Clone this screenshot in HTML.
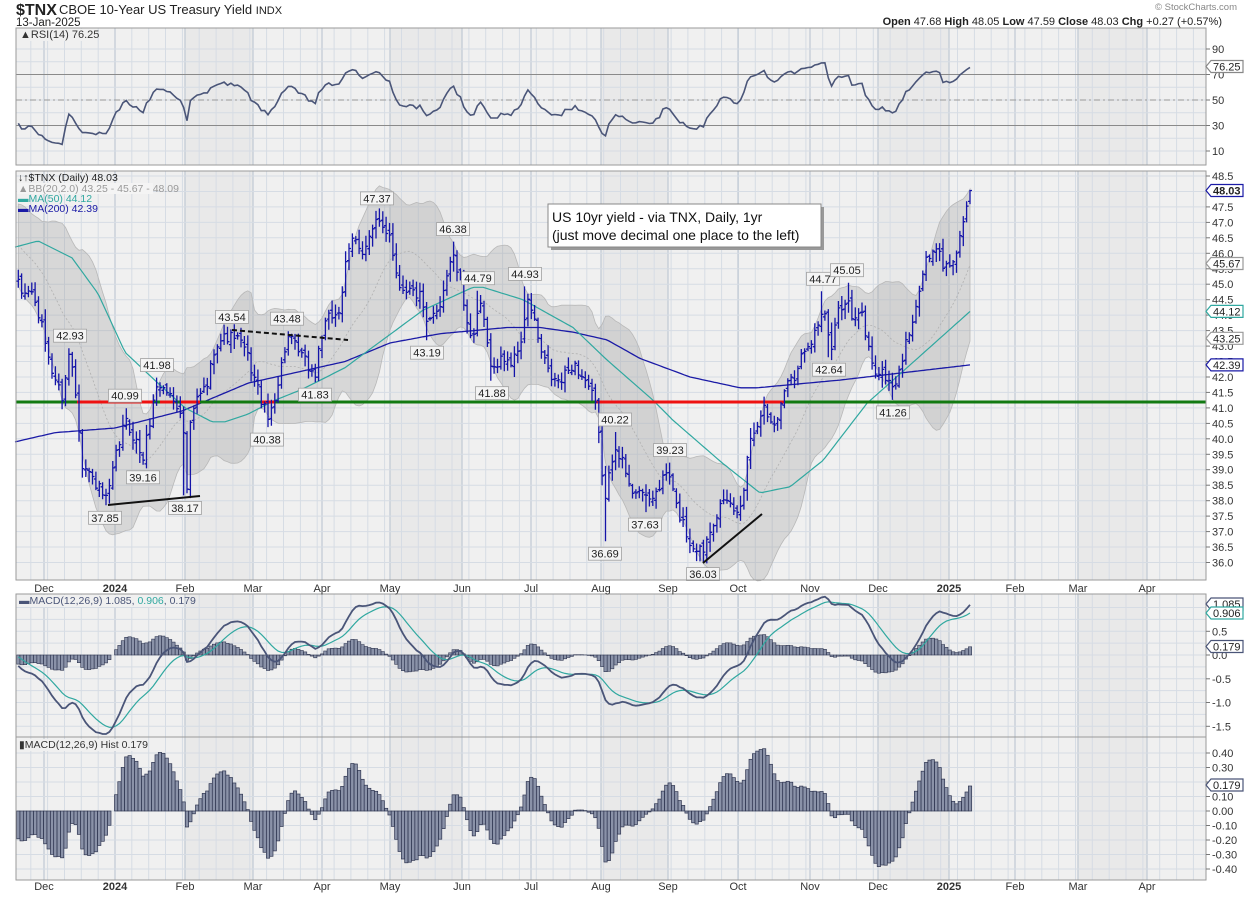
<!DOCTYPE html>
<html><head><meta charset="utf-8"><style>
html,body{margin:0;padding:0;background:#fff;}
svg{display:block;font-family:"Liberation Sans",sans-serif;}
</style></head><body>
<svg id="c" width="1250" height="897" xmlns="http://www.w3.org/2000/svg"></svg>
<script>
const S=document.getElementById('c');let h='';
const L=16,R=1206;
function yP(p){return 176+(48.5-p)*30.92}
function yR(v){return 100+(50-v)*1.275}
function yM(v){return 655-v*47.5}
function yH(v){return 811-v*145}
let s=1234567;function rnd(){s=(s*1103515245+12345)%2147483648;return s/2147483648;}
function interp(K,x){if(x<=K[0][0])return K[0][1];for(let i=1;i<K.length;i++){if(x<=K[i][0]){const a=K[i-1],b=K[i];return a[1]+(b[1]-a[1])*(x-a[0])/(b[0]-a[0]);}}return K[K.length-1][1];}
const K=[[18,45.0],[23,44.6],[30,44.9],[40,43.85],[52,42.2],[62,41.35],[70,42.9],[77,41.2],[82,39.2],[92,38.75],[107,37.95],[115,39.3],[125,40.6],[135,40.0],[143,39.3],[150,40.6],[157,41.8],[168,41.5],[182,40.9],[187,38.4],[190,40.3],[195,41.15],[208,41.8],[215,43.1],[233,43.4],[245,42.9],[258,41.6],[268,40.6],[278,41.8],[285,42.95],[288,43.3],[302,42.65],[315,42.0],[320,43.2],[328,43.85],[340,44.2],[345,45.5],[353,46.5],[363,46.1],[377,47.0],[390,46.65],[398,45.0],[410,44.8],[420,44.6],[427,43.6],[440,44.4],[452,46.0],[460,45.1],[465,44.2],[473,43.0],[480,44.5],[487,43.1],[493,42.2],[503,42.65],[513,42.45],[522,43.3],[527,44.4],[532,44.2],[540,42.9],[550,42.0],[560,41.8],[573,42.45],[587,41.8],[595,41.15],[600,39.7],[605,37.9],[610,39.0],[615,39.9],[625,39.0],[630,38.3],[640,38.45],[647,37.9],[657,38.3],[668,39.0],[677,37.7],[683,37.3],[690,36.6],[703,36.4],[710,37.15],[720,37.8],[730,37.9],[738,37.5],[743,38.25],[748,39.7],[755,40.4],[763,41.05],[773,40.4],[780,40.9],[787,42.0],[797,42.1],[803,42.9],[813,43.3],[823,44.2],[828,43.4],[832,42.8],[838,44.2],[847,44.6],[853,43.75],[862,44.05],[867,43.1],[875,42.2],[887,42.0],[893,41.6],[903,42.65],[910,43.6],[917,44.2],[922,45.45],[930,45.9],[938,46.1],[945,45.45],[950,45.7],[957,46.2],[962,46.85],[968,47.8],[970,48.03]];
const N=283,xs=[],C=[],O=[],H=[],Lo=[];
for(let i=0;i<N;i++){xs.push(970-(N-1-i)*3.375);}
for(let i=0;i<N;i++){let c=interp(K,xs[i])+(rnd()-0.5)*0.4;C.push(c);}
C[N-1]=48.03;
for(let i=0;i<N;i++){let o=i?C[i-1]+(rnd()-0.5)*0.2:45.1;O.push(o);H.push(Math.max(o,C[i])+0.05+rnd()*0.3);Lo.push(Math.min(o,C[i])-0.05-rnd()*0.3);}
O[N-1]=47.68;H[N-1]=48.05;Lo[N-1]=47.59;
const peaks=[[70,42.93],[157,41.98],[125,40.99],[232,43.54],[287,43.48],[377,47.37],[453,46.38],[478,44.79],[525,44.93],[615,40.22],[670,39.23],[823,44.77],[847,45.05]];
const troughs=[[105,37.85],[143,39.16],[185,38.17],[267,40.38],[315,41.83],[427,43.19],[492,41.88],[605,36.69],[645,37.63],[703,36.03],[829,42.64],[893,41.26]];
function near(x){let b=0;for(let i=0;i<N;i++)if(Math.abs(xs[i]-x)<Math.abs(xs[b]-x))b=i;return b;}
peaks.forEach(p=>{const i=near(p[0]);H[i]=p[1];C[i]=Math.min(C[i],p[1]-0.1);O[i]=Math.min(O[i],p[1]-0.2);Lo[i]=Math.min(Lo[i],C[i]-0.2,O[i]-0.1);});
troughs.forEach(p=>{const i=near(p[0]);Lo[i]=p[1];C[i]=Math.max(C[i],p[1]+0.15);O[i]=Math.max(O[i],p[1]+0.3);H[i]=Math.max(H[i],C[i]+0.1,O[i]+0.1);});
const PK=[[0,43.5],[20,44.5],[35,46],[45,47.3],[54,46.6],[58,45.9],[64,45.2]];
const all=[];for(let i=0;i<65;i++)all.push(interp(PK,i)+(rnd()-0.5)*0.3);
const P0=all.length;C.forEach(c=>all.push(c));
const bbU=[],bbM=[],bbL=[];
for(let i=0;i<N;i++){const j=P0+i;let m=0;for(let k=j-19;k<=j;k++)m+=all[k];m/=20;let v=0;for(let k=j-19;k<=j;k++)v+=(all[k]-m)**2;const sd=Math.sqrt(v/20);bbU.push(m+2*sd);bbM.push(m);bbL.push(m-2*sd);}
let ag=0,al=0;for(let k=1;k<=14;k++){const d=all[k]-all[k-1];if(d>0)ag+=d;else al-=d;}ag/=14;al/=14;const rsiAll=[];
for(let k=15;k<all.length;k++){const d=all[k]-all[k-1];ag=(ag*13+Math.max(d,0))/14;al=(al*13+Math.max(-d,0))/14;rsiAll[k]=50+(50-100/(1+ag/al))*0.8;}
let e12=all[0],e26=all[0],sg=0;const mac=[],sig=[],hist=[];
for(let k=0;k<all.length;k++){e12=e12+(all[k]-e12)*2/13;e26=e26+(all[k]-e26)*2/27;const m=e12-e26;sg=k?sg+(m-sg)*0.2:m;if(k>=P0){mac.push(m);sig.push(sg);hist.push(m-sg);}}
const M50=[[15,46.2],[38,46.4],[72,45.85],[98,44.7],[125,42.8],[158,41.8],[185,41.0],[212,40.55],[225,40.55],[248,40.8],[275,41.25],[302,41.6],[345,42.3],[373,42.97],[423,44.16],[473,44.9],[483,44.9],[523,44.5],[573,43.6],[607,42.55],[653,41.25],[673,40.6],[723,39.2],[760,38.25],[790,38.45],[823,39.3],[867,41.15],[907,42.3],[970,44.12]];
const M200=[[15,39.9],[55,40.2],[115,40.35],[182,40.9],[248,41.8],[345,42.5],[390,43.1],[440,43.4],[507,43.6],[540,43.6],[573,43.45],[607,43.2],[640,42.6],[690,42.0],[740,41.65],[757,41.65],[840,41.9],[970,42.39]];
function f(n){return n.toFixed(1)}
const panels=[[28,165],[171,580],[594,737],[737,880]];
const months=[[44,'Dec'],[115,'2024'],[185,'Feb'],[253,'Mar'],[322,'Apr'],[390,'May'],[462,'Jun'],[531,'Jul'],[601,'Aug'],[668,'Sep'],[738,'Oct'],[810,'Nov'],[878,'Dec'],[949,'2025'],[1015,'Feb'],[1078,'Mar'],[1147,'Apr']];
const dark=[[185,253],[390,462],[601,668],[878,949],[1078,1147]];
panels.forEach(p=>{h+=`<rect x="${L}" y="${p[0]}" width="${R-L}" height="${p[1]-p[0]}" fill="#f0f0f0"/>`;dark.forEach(d=>{h+=`<rect x="${d[0]}" y="${p[0]}" width="${d[1]-d[0]}" height="${p[1]-p[0]}" fill="#e9e9e9"/>`;});});
panels.forEach(p=>{for(let x=115-16.85*5;x<R;x+=16.85){if(x>L)h+=`<line x1="${f(x)}" y1="${p[0]}" x2="${f(x)}" y2="${p[1]}" stroke="#d6dce4" stroke-width="1"/>`;}
months.forEach(m=>{h+=`<line x1="${m[0]}" y1="${p[0]}" x2="${m[0]}" y2="${p[1]}" stroke="#c4ccd6" stroke-width="1.3"/>`;});});
function hl(y,c,w,da){return `<line x1="${L}" y1="${f(y)}" x2="${R}" y2="${f(y)}" stroke="${c}" stroke-width="${w||1}" ${da?'stroke-dasharray="'+da+'"':''}/>`;}
for(let v=10;v<=90;v+=10){h+=hl(yR(v),'#d6dce4');}
h+=hl(yR(70),'#8a8a8a');h+=hl(yR(30),'#8a8a8a');h+=hl(yR(50),'#999','1','6,3,2,3');
for(let p=36;p<=48.5;p+=0.5)h+=hl(yP(p),'#d6dce4');
for(let v=-1.5;v<=1.0;v+=0.25)h+=hl(yM(v),'#d6dce4');
for(let v=-0.4;v<=0.41;v+=0.1)h+=hl(yH(v),'#d6dce4');
let bb='M';for(let i=0;i<N;i++)bb+=f(xs[i])+' '+f(yP(bbU[i]))+' L';for(let i=N-1;i>=0;i--)bb+=f(xs[i])+' '+f(yP(bbL[i]))+(i?' L':'Z');
h+=`<path d="${bb}" fill="rgba(150,150,150,0.28)" stroke="#b8b8b8" stroke-width="0.8"/>`;
let bm='M'+xs.map((x,i)=>f(x)+' '+f(yP(bbM[i]))).join(' L');h+=`<path d="${bm}" fill="none" stroke="#b0b0b0" stroke-width="0.8" stroke-dasharray="2,2"/>`;
function kp(Kk,fy){let d='M';for(let x=15;x<=970;x+=3){d+=f(x)+' '+f(fy(interp(Kk,x)))+' L';}return d+'970 '+f(fy(Kk[Kk.length-1][1]));}
h+=`<path d="${kp(M200,yP)}" fill="none" stroke="#1a1aa6" stroke-width="1.3"/>`;
h+=`<path d="${kp(M50,yP)}" fill="none" stroke="#30a8a0" stroke-width="1.2"/>`;
h+=`<line x1="${L}" y1="402" x2="${R}" y2="402" stroke="#127a12" stroke-width="3"/>`;
[[77,153],[160,175],[180,200],[262,275],[595,784]].forEach(r=>{h+=`<line x1="${r[0]}" y1="402" x2="${r[1]}" y2="402" stroke="#ee1111" stroke-width="3"/>`;});
let bp='';for(let i=0;i<N;i++){const x=xs[i];bp+=`M${f(x)} ${f(yP(H[i]))}V${f(yP(Lo[i]))}M${f(x-2)} ${f(yP(O[i]))}H${f(x)}M${f(x)} ${f(yP(C[i]))}H${f(x+2)}`;}
h+=`<path d="${bp}" stroke="#1414a8" stroke-width="1.3" fill="none"/>`;
h+=`<line x1="108" y1="505" x2="200" y2="496" stroke="#111" stroke-width="2"/>`;
h+=`<line x1="232" y1="330" x2="348" y2="340" stroke="#111" stroke-width="2" stroke-dasharray="5,3"/>`;
h+=`<line x1="703" y1="563" x2="762" y2="514" stroke="#111" stroke-width="2"/>`;
function lab(x,y,t,up){const w=33;let by=up?y-19:y+6;h+=`<rect x="${f(x-w/2)}" y="${f(by)}" width="${w}" height="13" fill="#f4f4f4" stroke="#a0a0a0" stroke-width="0.8"/>`;h+=`<text x="${f(x)}" y="${f(by+10.5)}" font-size="11" text-anchor="middle" fill="#222">${t}</text>`;}
peaks.forEach(p=>lab(p[0],yP(p[1]),p[1].toFixed(2),1));
troughs.forEach(p=>lab(p[0],yP(p[1]),p[1].toFixed(2),0));
h+=`<rect x="551" y="207" width="273" height="43" fill="#999"/><rect x="548" y="204" width="273" height="43" fill="#fff" stroke="#888"/>`;
h+=`<text x="552" y="222" font-size="14" fill="#111">US 10yr yield - via TNX, Daily, 1yr</text><text x="552" y="240" font-size="14" fill="#111">(just move decimal one place to the left)</text>`;
let rp='M';for(let i=0;i<N;i++){rp+=f(xs[i])+' '+f(yR(rsiAll[P0+i]))+(i<N-1?' L':'');}
h+=`<path d="${rp}" fill="none" stroke="#4a5578" stroke-width="1.6"/>`;
let hb='';for(let i=0;i<N;i++){const x=xs[i]-1.65,y0=yM(0),y1=yM(hist[i]);hb+=`<rect x="${f(x)}" y="${f(Math.min(y0,y1))}" width="3.3" height="${f(Math.abs(y1-y0))}"/>`;}
h+=`<g fill="#8a92a8" stroke="#2e3550" stroke-width="0.6">${hb}</g>`;
let mp='M'+xs.map((x,i)=>f(x)+' '+f(yM(mac[i]))).join(' L');let sp='M'+xs.map((x,i)=>f(x)+' '+f(yM(sig[i]))).join(' L');
h+=`<path d="${sp}" fill="none" stroke="#30a8a0" stroke-width="1.2"/><path d="${mp}" fill="none" stroke="#4a5578" stroke-width="1.8"/>`;
let hb2='';for(let i=0;i<N;i++){const x=xs[i]-1.65,y0=yH(0),y1=yH(hist[i]);hb2+=`<rect x="${f(x)}" y="${f(Math.min(y0,y1))}" width="3.3" height="${f(Math.abs(y1-y0))}"/>`;}
h+=`<g fill="#8a92a8" stroke="#2e3550" stroke-width="0.7">${hb2}</g>`;
panels.forEach(p=>{h+=`<rect x="${L}" y="${p[0]}" width="${R-L}" height="${p[1]-p[0]}" fill="none" stroke="#9a9a9a" stroke-width="1"/>`;});
function rl(y,t){h+=`<line x1="${R}" y1="${f(y)}" x2="${R+4}" y2="${f(y)}" stroke="#777"/><text x="${R+6}" y="${f(y+4)}" font-size="11" fill="#333">${t}</text>`;}
[90,70,50,30,10].forEach(v=>rl(yR(v),v));
for(let p=48.5;p>=35.99;p-=0.5)rl(yP(p),p.toFixed(1));
[0.5,0,-0.5,-1,-1.5].forEach(v=>rl(yM(v),v.toFixed(1)));
[0.4,0.3,0.2,0.1,0,-0.1,-0.2,-0.3,-0.4].forEach(v=>rl(yH(v),(v<0?'-':'')+Math.abs(v).toFixed(2)));
function tag(y,t,c,b){h+=`<path d="M${R} ${f(y)} L${R+5} ${f(y-6)} H${R+37} V${f(y+6)} H${R+5}Z" fill="#fff" stroke="${c}" stroke-width="1.2"/><text x="${R+7}" y="${f(y+4)}" font-size="11" fill="#222" ${b?'font-weight="bold"':''}>${t}</text>`;}
tag(yR(76.25),'76.25','#888');
tag(yP(45.67),'45.67','#999');tag(yP(44.12),'44.12','#30a8a0');tag(yP(43.25),'43.25','#999');tag(yP(42.39),'42.39','#1a1aa6');tag(yP(48.03),'48.03','#1a1aa6',1);
tag(604,'1.085','#4a5578');tag(613,'0.906','#30a8a0');tag(yM(0.179),'0.179','#4a5578');tag(yH(0.179),'0.179','#4a5578');
months.forEach(m=>{const b=m[1].length==4;[592,890].forEach(y=>{h+=`<text x="${m[0]}" y="${y}" font-size="11" text-anchor="middle" fill="#333" ${b?'font-weight="bold"':''}>${m[1]}</text>`;});});
h+=`<rect x="17" y="29" width="66" height="12" fill="#f0f0f0"/><text x="20" y="38" font-size="11" fill="#333">▲RSI(14) 76.25</text>`;
h+=`<text x="18" y="181" font-size="10.5" fill="#222">↓↑$TNX (Daily) 48.03</text>`;
h+=`<rect x="17" y="183" width="136" height="11" fill="#f4f4f4"/><text x="18" y="192" font-size="10.5" fill="#999">▲BB(20,2.0) 43.25 - 45.67 - 48.09</text>`;
h+=`<text x="18" y="202" font-size="10.5" fill="#30a8a0">▬MA(50) 44.12</text>`;
h+=`<text x="18" y="212" font-size="10.5" fill="#1a1aa6">▬MA(200) 42.39</text>`;
h+=`<rect x="17" y="595" width="166" height="12" fill="#f0f0f0"/><text x="19" y="604" font-size="10.5" fill="#4a5578">▬MACD(12,26,9) 1.085, <tspan fill="#30a8a0">0.906</tspan>, 0.179</text>`;
h+=`<rect x="17" y="739" width="127" height="12" fill="#f0f0f0"/><text x="19" y="748" font-size="10.5" fill="#333">▮MACD(12,26,9) Hist 0.179</text>`;
h+=`<text x="16" y="15" font-size="16" font-weight="bold" fill="#222">$TNX</text><text x="59" y="14" font-size="13" fill="#222">CBOE 10-Year US Treasury Yield <tspan font-size="11">INDX</tspan></text>`;
h+=`<text x="16" y="26" font-size="11.5" fill="#222">13-Jan-2025</text>`;
h+=`<text x="1237" y="10" font-size="9.5" fill="#888" text-anchor="end">© StockCharts.com</text>`;
h+=`<text x="1222" y="25" font-size="11" fill="#222" text-anchor="end"><tspan font-weight="bold">Open</tspan> 47.68  <tspan font-weight="bold">High</tspan> 48.05  <tspan font-weight="bold">Low</tspan> 47.59  <tspan font-weight="bold">Close</tspan> 48.03  <tspan font-weight="bold">Chg</tspan> +0.27 (+0.57%)</text>`;
S.innerHTML=h;
</script>
</body></html>
